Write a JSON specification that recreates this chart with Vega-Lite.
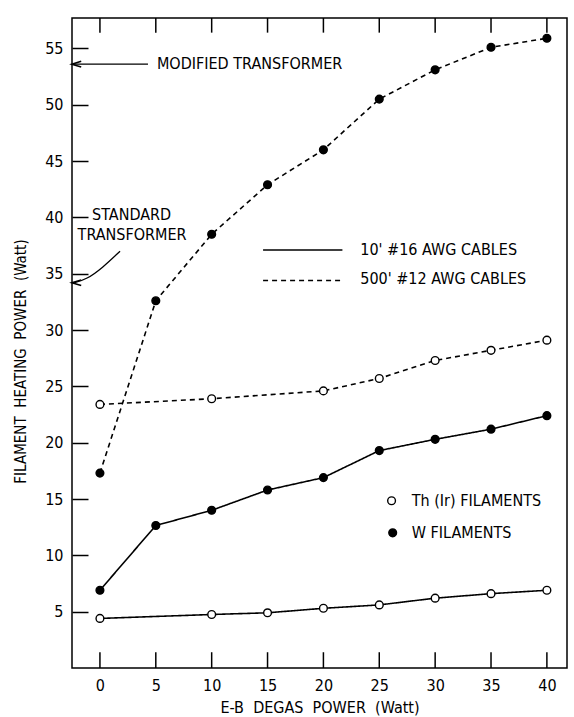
{
  "$schema": "https://vega.github.io/schema/vega-lite/v6.json",
  "width": 495,
  "height": 650,
  "autosize": "none",
  "padding": {"left": 72, "top": 18, "right": 7, "bottom": 49},
  "background": "white",
  "config": {
    "font": "DejaVu Sans Condensed",
    "view": {"stroke": "black", "strokeWidth": 1.5},
    "axis": {"grid": false, "domain": false, "tickColor": "black", "tickWidth": 1.5, "labelColor": "black", "titleColor": "black", "labelFont": "DejaVu Sans Condensed", "titleFont": "DejaVu Sans Condensed", "labelFontSize": 16, "titleFontSize": 16, "titleFontWeight": "normal"}
  },
  "datasets": {
    "curves": [
      {"x": 0, "y": 17.3, "filament": "W", "cable": "500", "series": "W500"},
      {"x": 5, "y": 32.6, "filament": "W", "cable": "500", "series": "W500"},
      {"x": 10, "y": 38.5, "filament": "W", "cable": "500", "series": "W500"},
      {"x": 15, "y": 42.9, "filament": "W", "cable": "500", "series": "W500"},
      {"x": 20, "y": 46.0, "filament": "W", "cable": "500", "series": "W500"},
      {"x": 25, "y": 50.5, "filament": "W", "cable": "500", "series": "W500"},
      {"x": 30, "y": 53.1, "filament": "W", "cable": "500", "series": "W500"},
      {"x": 35, "y": 55.1, "filament": "W", "cable": "500", "series": "W500"},
      {"x": 40, "y": 55.9, "filament": "W", "cable": "500", "series": "W500"},
      {"x": 0, "y": 23.4, "filament": "Th", "cable": "500", "series": "Th500"},
      {"x": 10, "y": 23.9, "filament": "Th", "cable": "500", "series": "Th500"},
      {"x": 20, "y": 24.6, "filament": "Th", "cable": "500", "series": "Th500"},
      {"x": 25, "y": 25.7, "filament": "Th", "cable": "500", "series": "Th500"},
      {"x": 30, "y": 27.3, "filament": "Th", "cable": "500", "series": "Th500"},
      {"x": 35, "y": 28.2, "filament": "Th", "cable": "500", "series": "Th500"},
      {"x": 40, "y": 29.1, "filament": "Th", "cable": "500", "series": "Th500"},
      {"x": 0, "y": 6.9, "filament": "W", "cable": "10", "series": "W10"},
      {"x": 5, "y": 12.65, "filament": "W", "cable": "10", "series": "W10"},
      {"x": 10, "y": 14.0, "filament": "W", "cable": "10", "series": "W10"},
      {"x": 15, "y": 15.8, "filament": "W", "cable": "10", "series": "W10"},
      {"x": 20, "y": 16.9, "filament": "W", "cable": "10", "series": "W10"},
      {"x": 25, "y": 19.3, "filament": "W", "cable": "10", "series": "W10"},
      {"x": 30, "y": 20.3, "filament": "W", "cable": "10", "series": "W10"},
      {"x": 35, "y": 21.2, "filament": "W", "cable": "10", "series": "W10"},
      {"x": 40, "y": 22.4, "filament": "W", "cable": "10", "series": "W10"},
      {"x": 0, "y": 4.4, "filament": "Th", "cable": "10", "series": "Th10"},
      {"x": 10, "y": 4.75, "filament": "Th", "cable": "10", "series": "Th10"},
      {"x": 15, "y": 4.9, "filament": "Th", "cable": "10", "series": "Th10"},
      {"x": 20, "y": 5.3, "filament": "Th", "cable": "10", "series": "Th10"},
      {"x": 25, "y": 5.6, "filament": "Th", "cable": "10", "series": "Th10"},
      {"x": 30, "y": 6.2, "filament": "Th", "cable": "10", "series": "Th10"},
      {"x": 35, "y": 6.6, "filament": "Th", "cable": "10", "series": "Th10"},
      {"x": 40, "y": 6.9, "filament": "Th", "cable": "10", "series": "Th10"}
    ],
    "labels": [
      {"x": 5.1, "y": 53.6, "text": "MODIFIED  TRANSFORMER"},
      {"x": -0.7, "y": 40.2, "text": "STANDARD"},
      {"x": -2.0, "y": 38.4, "text": "TRANSFORMER"},
      {"x": 23.3, "y": 37.1, "text": "10'  #16  AWG  CABLES"},
      {"x": 23.3, "y": 34.5, "text": "500'  #12  AWG  CABLES"},
      {"x": 27.9, "y": 14.85, "text": "Th  (Ir)  FILAMENTS"},
      {"x": 27.9, "y": 12.0, "text": "W  FILAMENTS"}
    ],
    "legendLines": [
      {"x": 14.6, "x2": 21.7, "y": 37.1, "cable": "10"},
      {"x": 14.6, "x2": 21.7, "y": 34.4, "cable": "500"}
    ],
    "legendPoints": [
      {"x": 26.1, "y": 14.85, "filament": "Th"},
      {"x": 26.2, "y": 12.0, "filament": "W"}
    ],
    "frameTicks": [
      {"x": 0, "y": 57.7, "y2": 56.4}, {"x": 5, "y": 57.7, "y2": 56.4}, {"x": 10, "y": 57.7, "y2": 56.4},
      {"x": 15, "y": 57.7, "y2": 56.4}, {"x": 20, "y": 57.7, "y2": 56.4}, {"x": 25, "y": 57.7, "y2": 56.4},
      {"x": 30, "y": 57.7, "y2": 56.4}, {"x": 35, "y": 57.7, "y2": 56.4}, {"x": 40, "y": 57.7, "y2": 56.4},
      {"x": 0, "y": 0, "y2": 1.4}, {"x": 5, "y": 0, "y2": 1.4}, {"x": 10, "y": 0, "y2": 1.4},
      {"x": 15, "y": 0, "y2": 1.4}, {"x": 20, "y": 0, "y2": 1.4}, {"x": 25, "y": 0, "y2": 1.4},
      {"x": 30, "y": 0, "y2": 1.4}, {"x": 35, "y": 0, "y2": 1.4}, {"x": 40, "y": 0, "y2": 1.4}
    ],
    "arrowCurve": [
      {"order": 1, "x": 1.8, "y": 37.0},
      {"order": 2, "x": 0.2, "y": 35.5},
      {"order": 3, "x": -1.2, "y": 34.5},
      {"order": 4, "x": -2.3, "y": 34.2}
    ],
    "arrowHeads": [
      {"x": -2.1, "y": 53.6},
      {"x": -2.1, "y": 34.2}
    ],
    "arrowLine": [
      {"x": -2.4, "x2": 4.3, "y": 53.6}
    ]
  },
  "layer": [
    {
      "data": {"name": "curves"},
      "mark": {"type": "line", "strokeWidth": 1.6, "color": "black"},
      "encoding": {
        "x": {"field": "x", "type": "quantitative", "scale": {"domain": [-2.5, 41.8], "nice": false, "zero": false},
          "axis": {"values": [0, 5, 10, 15, 20, 25, 30, 35, 40], "ticks": false, "labelPadding": 9, "title": "E-B\u00a0 DEGAS\u00a0 POWER\u00a0 (Watt)", "titlePadding": 6}},
        "y": {"field": "y", "type": "quantitative", "scale": {"domain": [0, 57.7], "nice": false},
          "axis": {"values": [5, 10, 15, 20, 25, 30, 35, 40, 45, 50, 55], "tickSize": -16, "labelPadding": 25, "title": "FILAMENT\u00a0 HEATING\u00a0 POWER\u00a0 (Watt)", "titleFontSize": 15, "titlePadding": 16, "titleY": 343}},
        "detail": {"field": "series"},
        "strokeDash": {"field": "cable", "type": "nominal", "scale": {"domain": ["10", "500"], "range": [[1, 0], [5, 4]]}, "legend": null}
      }
    },
    {
      "data": {"name": "frameTicks"},
      "mark": {"type": "rule", "strokeWidth": 1.5, "color": "black"},
      "encoding": {
        "x": {"field": "x", "type": "quantitative"},
        "y": {"field": "y", "type": "quantitative"},
        "y2": {"field": "y2"}
      }
    },
    {
      "data": {"name": "curves"},
      "mark": {"type": "point", "shape": "circle", "filled": true, "opacity": 1, "size": 60, "stroke": "black", "strokeWidth": 1.4},
      "encoding": {
        "x": {"field": "x", "type": "quantitative"},
        "y": {"field": "y", "type": "quantitative"},
        "fill": {"field": "filament", "type": "nominal", "scale": {"domain": ["Th", "W"], "range": ["white", "black"]}, "legend": null}
      }
    },
    {
      "data": {"name": "legendLines"},
      "mark": {"type": "rule", "strokeWidth": 1.6, "color": "black"},
      "encoding": {
        "x": {"field": "x", "type": "quantitative"},
        "x2": {"field": "x2"},
        "y": {"field": "y", "type": "quantitative"},
        "strokeDash": {"field": "cable", "type": "nominal", "legend": null}
      }
    },
    {
      "data": {"name": "legendPoints"},
      "mark": {"type": "point", "shape": "circle", "filled": true, "opacity": 1, "size": 60, "stroke": "black", "strokeWidth": 1.4},
      "encoding": {
        "x": {"field": "x", "type": "quantitative"},
        "y": {"field": "y", "type": "quantitative"},
        "fill": {"field": "filament", "type": "nominal", "legend": null}
      }
    },
    {
      "data": {"name": "labels"},
      "mark": {"type": "text", "align": "left", "baseline": "middle", "fontSize": 16, "color": "black"},
      "encoding": {
        "x": {"field": "x", "type": "quantitative"},
        "y": {"field": "y", "type": "quantitative"},
        "text": {"field": "text"}
      }
    },
    {
      "data": {"name": "arrowLine"},
      "mark": {"type": "rule", "strokeWidth": 1.3, "color": "black"},
      "encoding": {
        "x": {"field": "x", "type": "quantitative"},
        "x2": {"field": "x2"},
        "y": {"field": "y", "type": "quantitative"}
      }
    },
    {
      "data": {"name": "arrowCurve"},
      "mark": {"type": "line", "interpolate": "basis", "strokeWidth": 1.3, "color": "black"},
      "encoding": {
        "x": {"field": "x", "type": "quantitative"},
        "y": {"field": "y", "type": "quantitative"},
        "order": {"field": "order"}
      }
    },
    {
      "data": {"name": "arrowHeads"},
      "mark": {"type": "point", "shape": "M1,-0.6L-1,0L1,0.6", "filled": false, "opacity": 1, "size": 90, "stroke": "black", "strokeWidth": 1.5},
      "encoding": {
        "x": {"field": "x", "type": "quantitative"},
        "y": {"field": "y", "type": "quantitative"}
      }
    }
  ]
}
